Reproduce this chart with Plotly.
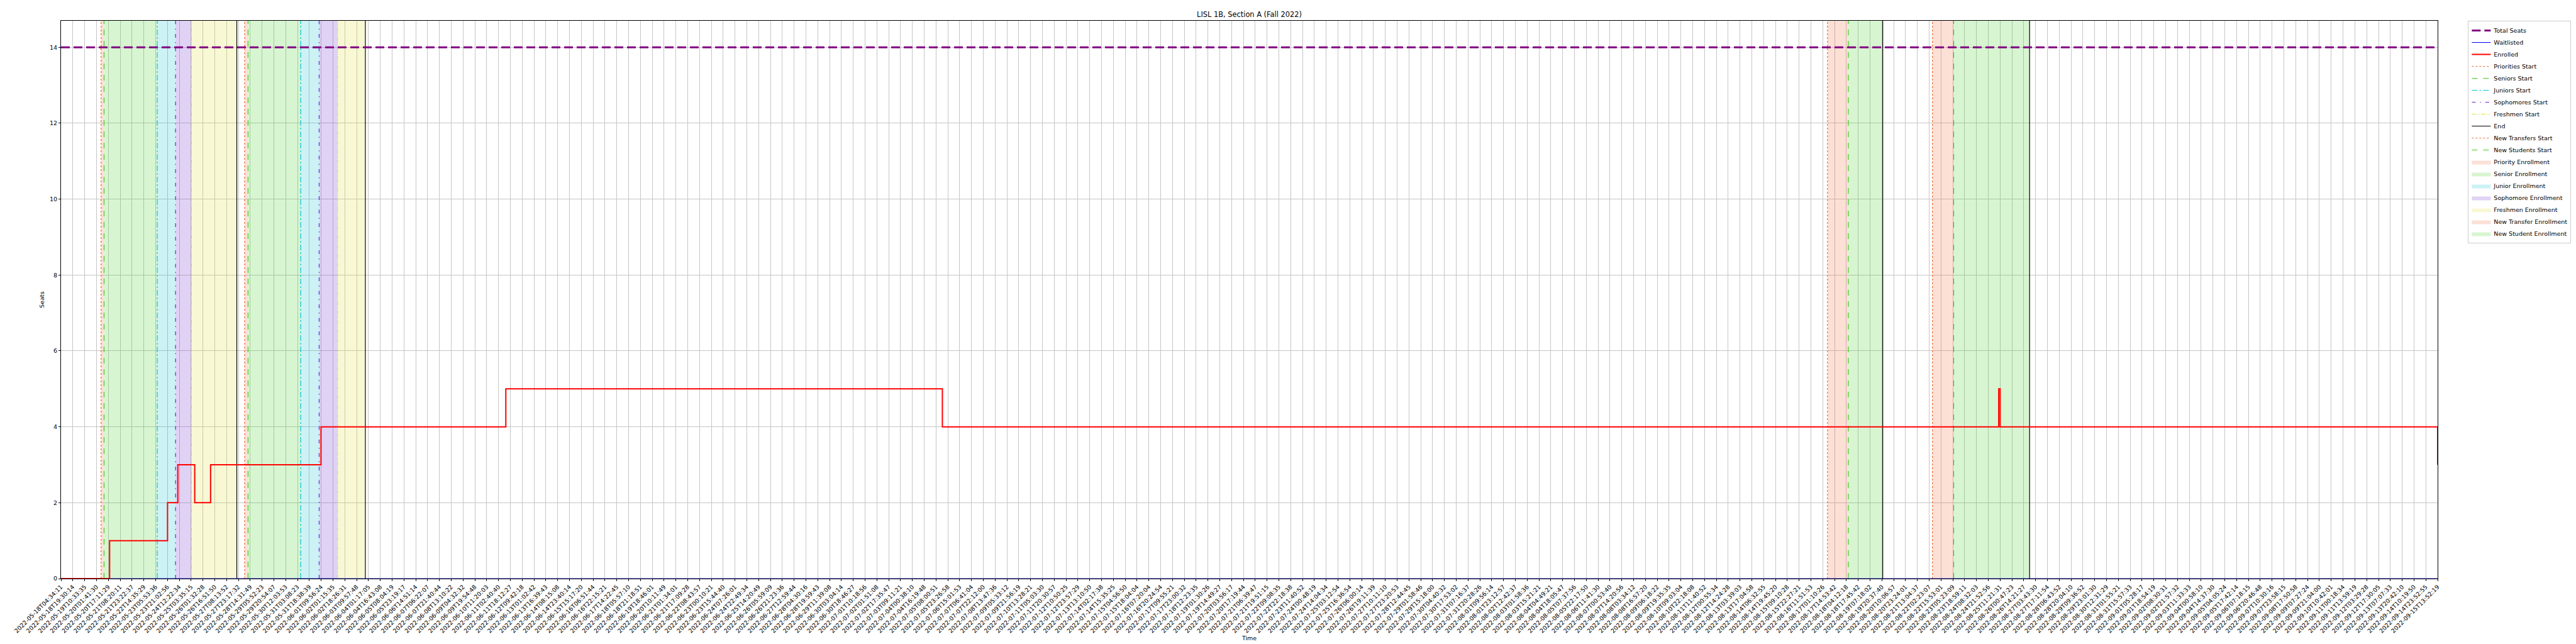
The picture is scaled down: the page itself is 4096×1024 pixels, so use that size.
import plotly.graph_objects as go

# ---------------- data ----------------
tick_labels = [
    "2022-05-18T04:34:11", "2022-05-18T19:30:14", "2022-05-19T10:33:35", "2022-05-20T01:41:30",
    "2022-05-20T17:11:29", "2022-05-21T08:20:11", "2022-05-21T23:22:37", "2022-05-22T14:35:29",
    "2022-05-23T05:53:36", "2022-05-23T21:02:56", "2022-05-24T12:22:34", "2022-05-25T03:35:15",
    "2022-05-26T01:32:28", "2022-05-26T16:51:50", "2022-05-27T08:13:52", "2022-05-27T23:17:32",
    "2022-05-28T14:31:49", "2022-05-29T05:52:23", "2022-05-29T20:54:07", "2022-05-30T12:03:53",
    "2022-05-31T03:08:23", "2022-05-31T18:38:39",
    "2022-06-01T09:56:24", "2022-06-02T01:15:35", "2022-06-02T18:26:31", "2022-06-03T09:57:48",
    "2022-06-04T01:17:05", "2022-06-04T16:43:08", "2022-06-05T08:04:19", "2022-06-05T23:19:17",
    "2022-06-06T14:51:14", "2022-06-07T06:22:07", "2022-06-07T21:40:44", "2022-06-08T13:10:22",
    "2022-06-09T04:32:32", "2022-06-09T19:54:48", "2022-06-10T11:20:03", "2022-06-11T02:40:40",
    "2022-06-11T18:12:27", "2022-06-12T09:42:18", "2022-06-13T01:02:42", "2022-06-13T16:39:43",
    "2022-06-14T08:15:08", "2022-06-14T23:40:14", "2022-06-15T15:17:20", "2022-06-16T06:51:44",
    "2022-06-16T22:15:21", "2022-06-17T14:22:45", "2022-06-18T05:57:10", "2022-06-18T21:18:51",
    "2022-06-19T18:46:01", "2022-06-20T10:11:49", "2022-06-21T01:34:01", "2022-06-21T17:09:28",
    "2022-06-22T08:43:57", "2022-06-23T00:10:21", "2022-06-23T15:44:40", "2022-06-24T07:26:01",
    "2022-06-24T22:49:34", "2022-06-25T14:20:49", "2022-06-26T05:59:09", "2022-06-26T21:23:36",
    "2022-06-27T12:59:44", "2022-06-28T04:30:16", "2022-06-28T19:59:43", "2022-06-29T11:39:08",
    "2022-06-30T03:04:14", "2022-06-30T18:46:27",
    "2022-07-01T10:18:56", "2022-07-02T01:51:08", "2022-07-02T17:35:47", "2022-07-03T09:11:21",
    "2022-07-04T00:38:10", "2022-07-04T16:19:48", "2022-07-05T08:00:51", "2022-07-05T23:26:58",
    "2022-07-06T15:01:53", "2022-07-07T06:41:04", "2022-07-07T22:12:00", "2022-07-08T13:47:36",
    "2022-07-09T05:33:12", "2022-07-09T21:56:19", "2022-07-10T13:28:21", "2022-07-11T05:03:30",
    "2022-07-11T20:30:57", "2022-07-12T10:50:25", "2022-07-12T23:57:29", "2022-07-13T13:10:50",
    "2022-07-14T02:17:38", "2022-07-14T15:35:25", "2022-07-15T04:56:50", "2022-07-15T18:04:04",
    "2022-07-16T07:20:04", "2022-07-16T20:24:54", "2022-07-17T09:55:21", "2022-07-17T23:00:32",
    "2022-07-18T12:23:35", "2022-07-19T01:30:26", "2022-07-19T14:49:27", "2022-07-20T03:56:17",
    "2022-07-20T17:19:44", "2022-07-21T06:39:47", "2022-07-21T19:51:15", "2022-07-22T09:08:35",
    "2022-07-22T22:18:38", "2022-07-23T11:40:52", "2022-07-24T00:48:19", "2022-07-24T14:04:34",
    "2022-07-25T03:12:54", "2022-07-25T16:36:54", "2022-07-26T06:00:14", "2022-07-26T19:11:39",
    "2022-07-27T10:11:10", "2022-07-27T23:20:53", "2022-07-28T12:44:45", "2022-07-29T01:58:46",
    "2022-07-29T15:18:00", "2022-07-30T04:40:32", "2022-07-30T17:53:02", "2022-07-31T07:16:37",
    "2022-07-31T20:28:26",
    "2022-08-01T09:56:14", "2022-08-01T23:12:57", "2022-08-02T12:42:37", "2022-08-03T01:58:36",
    "2022-08-03T15:21:21", "2022-08-04T04:49:21", "2022-08-04T18:05:47", "2022-08-05T07:37:56",
    "2022-08-05T22:17:50", "2022-08-06T11:41:30", "2022-08-07T00:53:40", "2022-08-07T14:20:56",
    "2022-08-08T03:34:12", "2022-08-08T16:57:20", "2022-08-09T06:18:22", "2022-08-09T19:35:35",
    "2022-08-10T09:03:04", "2022-08-10T22:18:08", "2022-08-11T11:40:52", "2022-08-12T00:55:34",
    "2022-08-12T14:24:28", "2022-08-13T03:39:03", "2022-08-13T17:04:58", "2022-08-14T06:32:55",
    "2022-08-14T19:45:20", "2022-08-15T09:10:28", "2022-08-15T22:27:21", "2022-08-16T11:51:53",
    "2022-08-17T01:10:26", "2022-08-17T14:53:42", "2022-08-18T04:12:18", "2022-08-18T17:45:42",
    "2022-08-19T07:18:02", "2022-08-19T20:37:40", "2022-08-20T10:06:57", "2022-08-20T23:24:01",
    "2022-08-21T13:04:37", "2022-08-22T02:23:07", "2022-08-22T15:53:01", "2022-08-23T05:23:09",
    "2022-08-23T18:59:11", "2022-08-24T08:32:03", "2022-08-24T21:52:56", "2022-08-25T11:21:31",
    "2022-08-26T00:47:23", "2022-08-26T14:21:27", "2022-08-27T03:43:30", "2022-08-27T17:11:54",
    "2022-08-28T06:43:52", "2022-08-28T20:04:10", "2022-08-29T09:36:52", "2022-08-29T23:01:30",
    "2022-08-30T12:31:29", "2022-08-31T01:55:21", "2022-08-31T15:57:33",
    "2022-09-01T05:28:17", "2022-09-01T18:54:19", "2022-09-02T08:30:31", "2022-09-02T21:57:32",
    "2022-09-03T11:33:33", "2022-09-04T00:58:10", "2022-09-04T14:37:30", "2022-09-05T04:05:24",
    "2022-09-05T17:42:14", "2022-09-06T07:18:15", "2022-09-06T20:46:48", "2022-09-07T10:30:16",
    "2022-09-07T23:58:15", "2022-09-08T17:50:58", "2022-09-09T07:27:24", "2022-09-09T21:04:00",
    "2022-09-10T10:42:01", "2022-09-11T00:18:34", "2022-09-11T13:59:19", "2022-09-12T03:29:28",
    "2022-09-12T17:30:05", "2022-09-13T07:07:33", "2022-09-13T20:42:10", "2022-09-14T10:19:50",
    "2022-09-14T23:52:55", "2022-09-15T13:52:19",
]

# x positions are in units of tick positions (tick i -> label i)
total_seats = 14
enrolled_x = [0, 4.11, 9.01, 9.88, 11.31, 12.65, 21.99, 37.62, 74.54, 163.88, 164.0, 201]
enrolled_y = [0, 1, 2, 3, 2, 3, 4, 5, 4, 5, 4, 3]
waitlisted_x = [0, 201]
waitlisted_y = [0, 0]

priorities_start = [3.39, 15.53]
seniors_start = [3.64, 15.82]
juniors_start = [8.14, 20.27]
sophomores_start = [9.69, 21.83]
freshmen_start = [11.03, 23.39]
end_times = [14.87, 25.74, 154.07, 166.49]
new_transfers_start = [149.40, 158.27]
new_students_start = [151.16, 160.07]

priority_periods = [(3.39, 3.64), (15.53, 15.82)]
senior_periods = [(3.64, 8.14), (15.82, 20.27)]
junior_periods = [(8.14, 9.69), (20.27, 21.83)]
sophomore_periods = [(9.69, 11.03), (21.83, 23.39)]
freshmen_periods = [(11.03, 14.87), (23.39, 25.74)]
new_transfer_periods = [(149.40, 151.16), (158.27, 160.07)]
new_student_periods = [(151.16, 154.07), (160.07, 166.49)]

Y_TOP = 14.7
FONT = "DejaVu Sans"

fig = go.Figure()

def add_band(periods, color, name, rank):
    xs, ys = [], []
    for a, b in periods:
        xs += [a, a, b, b, a, None]
        ys += [0, Y_TOP, Y_TOP, 0, 0, None]
    fig.add_trace(go.Scatter(x=xs, y=ys, mode="lines", fill="toself", fillcolor=color,
                             line=dict(width=0, color=color), name=name, legendrank=rank,
                             hoverinfo="skip"))

def add_vlines(xvals, color, dash, name, rank, width=1.2):
    xs, ys = [], []
    for v in xvals:
        xs += [v, v, None]
        ys += [0, Y_TOP, None]
    fig.add_trace(go.Scatter(x=xs, y=ys, mode="lines", line=dict(color=color, dash=dash, width=width),
                             name=name, legendrank=rank))

add_band(priority_periods, "rgba(240,100,50,0.2)", "Priority Enrollment", 12)
add_band(senior_periods, "rgba(60,205,30,0.2)", "Senior Enrollment", 13)
add_band(junior_periods, "rgba(0,190,210,0.2)", "Junior Enrollment", 14)
add_band(sophomore_periods, "rgba(110,50,210,0.22)", "Sophomore Enrollment", 15)
add_band(freshmen_periods, "rgba(220,220,40,0.2)", "Freshmen Enrollment", 16)
add_band(new_transfer_periods, "rgba(240,100,50,0.2)", "New Transfer Enrollment", 17)
add_band(new_student_periods, "rgba(60,205,30,0.2)", "New Student Enrollment", 18)

add_vlines(priorities_start, "#f06a30", "dot", "Priorities Start", 4)
add_vlines(seniors_start, "#3ecc1a", "dash", "Seniors Start", 5)
add_vlines(juniors_start, "#00c8d4", "dashdot", "Juniors Start", 6)
add_vlines(sophomores_start, "#6a22d8", "6px,7px,1.5px,7px", "Sophomores Start", 7)
add_vlines(freshmen_start, "#e0e030", "6px,2px,1.5px,2px,1.5px,2px", "Freshmen Start", 8)
add_vlines(end_times, "black", "solid", "End", 9)
add_vlines(new_transfers_start, "#f06a30", "dot", "New Transfers Start", 10)
add_vlines(new_students_start, "#3ecc1a", "dash", "New Students Start", 11)

fig.add_trace(go.Scatter(x=[0, 201], y=[total_seats, total_seats], mode="lines",
                         line=dict(color="#800080", width=3.2, dash="14px,6px"),
                         name="Total Seats", legendrank=1))
fig.add_trace(go.Scatter(x=waitlisted_x, y=waitlisted_y, mode="lines",
                         line=dict(color="blue", width=1), name="Waitlisted", legendrank=2))
fig.add_trace(go.Scatter(x=enrolled_x, y=enrolled_y, mode="lines", line_shape="hv",
                         line=dict(color="red", width=2), name="Enrolled", legendrank=3))

axis_common = dict(showgrid=True, gridcolor="#c6c6c6", gridwidth=0.8, zeroline=False,
                   showline=True, linecolor="black", linewidth=1, mirror=True,
                   ticks="outside", ticklen=3, tickcolor="black", tickwidth=0.8,
                   tickfont=dict(family=FONT, size=9.5, color="black"))

fig.update_layout(
    width=4096, height=1024,
    margin=dict(l=89, r=228, t=25, b=112, autoexpand=False),
    paper_bgcolor="white", plot_bgcolor="white",
    font=dict(family=FONT, size=9.5, color="black"),
    title=dict(text="LISL 1B, Section A (Fall 2022)", x=0.5, xref="paper", xanchor="center",
               y=1 - 15 / 1024, yref="container", yanchor="middle",
               font=dict(family=FONT, size=11.4, color="black")),
    xaxis=dict(range=[0, 201], tickmode="array", tickvals=list(range(len(tick_labels))),
               ticktext=tick_labels, tickangle=-45,
               title=dict(text="Time", standoff=2, font=dict(family=FONT, size=9.5)),
               **axis_common),
    yaxis=dict(range=[0, Y_TOP], tickmode="array", tickvals=[0, 2, 4, 6, 8, 10, 12, 14],
               title=dict(text="Seats", standoff=6, font=dict(family=FONT, size=9.5)),
               **axis_common),
    legend=dict(x=1.0128, y=1, xanchor="left", yanchor="top", bgcolor="white",
                bordercolor="#cccccc", borderwidth=1, font=dict(family=FONT, size=9.5),
                itemwidth=30, tracegroupgap=0),
    showlegend=True,
)

fig.write_html("out.html")
